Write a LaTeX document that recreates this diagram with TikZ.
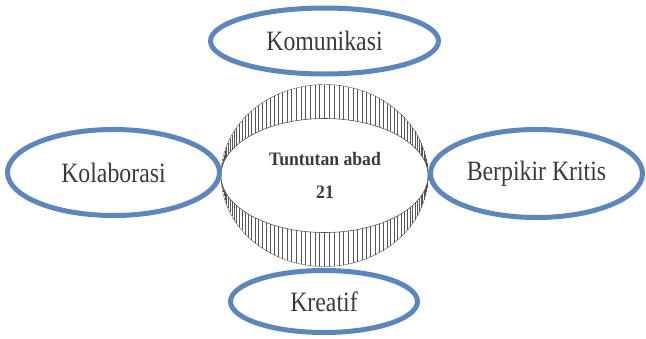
\documentclass[tikz,border=0pt]{standalone}
\usepackage{fontspec}
\setmainfont{Liberation Serif}
\newfontfamily\lblfont[FakeStretch=0.85]{Liberation Serif}
\newfontfamily\ctrfont[FakeStretch=0.93]{Liberation Serif}
\usetikzlibrary{shapes.geometric}
\definecolor{ringblue}{RGB}{91,135,190}
\definecolor{txtgray}{RGB}{58,58,58}
\definecolor{hatchgray}{RGB}{85,85,85}
\begin{document}
\begin{tikzpicture}[x=1pt,y=-1pt,
  bubble/.style={ellipse, draw=ringblue, line width=5pt, inner sep=0pt,
    text=txtgray, font=\lblfont\fontsize{28}{30}\selectfont},
  hatch/.style={draw=hatchgray, line width=0.5pt}]
\useasboundingbox (0,0) rectangle (646,338);
% central ring
\node[ellipse, draw=hatchgray, line width=0.4pt, minimum width=207pt, minimum height=182pt, inner sep=0pt] (core) at (324.5,175.5) {};
\foreach \i in {1,...,67} {
  \pgfmathsetmacro\xx{324.5+103.5*cos(\i*180/68)}
  \pgfmathsetmacro\yy{91*sin(\i*180/68)}
  \draw[hatch] (\xx,175.5-\yy) -- (\xx,175.5+\yy);
}
\fill[white, draw=hatchgray, line width=0.6pt] (324.5,175.5) ellipse [x radius=103.5, y radius=57];
\node[align=center, text=txtgray, font=\ctrfont\bfseries\fontsize{19}{33}\selectfont] (title) at (325,175) {Tuntutan abad\\21};
% outer ellipses
\node[bubble, minimum width=228pt, minimum height=66pt] (kom) at (324.5,41) {Komunikasi};
\node[bubble, minimum width=212pt, minimum height=86pt] (kol) at (113.5,172.5) {Kolaborasi};
\node[bubble, minimum width=212pt, minimum height=88pt] (ber) at (536.5,173.5) {Berpikir Kritis};
\node[bubble, minimum width=187pt, minimum height=62pt] (kre) at (324,301.5) {Kreatif};
\end{tikzpicture}
\end{document}
